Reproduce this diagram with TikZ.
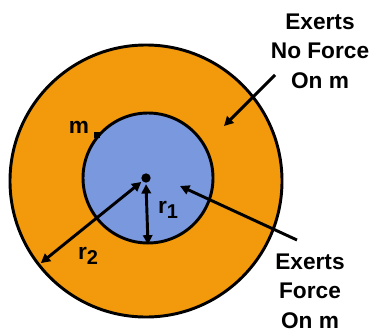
\documentclass[tikz,border=0pt]{standalone}
\usepackage{fontspec}
\setmainfont{Liberation Sans}
\definecolor{shellOrange}{RGB}{242, 153, 12}
\definecolor{coreBlue}{RGB}{122, 152, 222}
\usepackage{tikz}
\usetikzlibrary{arrows.meta}

\newcommand{\rsub}[1]{r\raisebox{-0.45ex}{\fontsize{15}{15}\selectfont #1}}

\begin{document}
\begin{tikzpicture}[x=0.75pt, y=-0.75pt, line width=2.2pt,
    every node/.style={font=\bfseries\fontsize{17}{22}\selectfont},
    arr/.style={-{Triangle[length=7pt, width=7pt]}},
    darr/.style={{Triangle[length=7pt, width=7pt]}-{Triangle[length=7pt, width=7pt]}}]
  \useasboundingbox (0,0) rectangle (377,335);
  \node[circle, draw, fill=shellOrange, minimum size=204pt, inner sep=0pt] (outer) at (146,181) {};
  \node[circle, draw, fill=coreBlue, minimum size=97.5pt, inner sep=0pt] (inner) at (148,178) {};
  \node[circle, fill=black, minimum size=7pt, inner sep=0pt] (ctr) at (146,178) {};
  \node[rectangle, fill=black, minimum size=4.5pt, inner sep=0pt] (m) at (inner.140) {};
  % radii
  \draw[darr] (ctr.south) -- (inner.south);
  \draw[darr, shorten >=3pt] (ctr.220) -- (outer.218.6);
  \node (r1) at (168,210) {\rsub{1}};
  \node (r2) at (88,256) {\rsub{2}};
  \node (mlabel) at (79,127) {m};
  % labels with arrows
  \node[align=center] (noforce) at (320,51) {Exerts\\No Force\\On m};
  \node[align=center] (force) at (310,291) {Exerts\\Force\\On m};
  \coordinate (nfTail) at (275,75);
  \coordinate (nfTip) at (224,126);
  \coordinate (fTail) at (297,240);
  \coordinate (fTip) at (180,186);
  \draw[arr] (nfTail) -- (nfTip);
  \draw[arr] (fTail) -- (fTip);
\end{tikzpicture}
\end{document}
